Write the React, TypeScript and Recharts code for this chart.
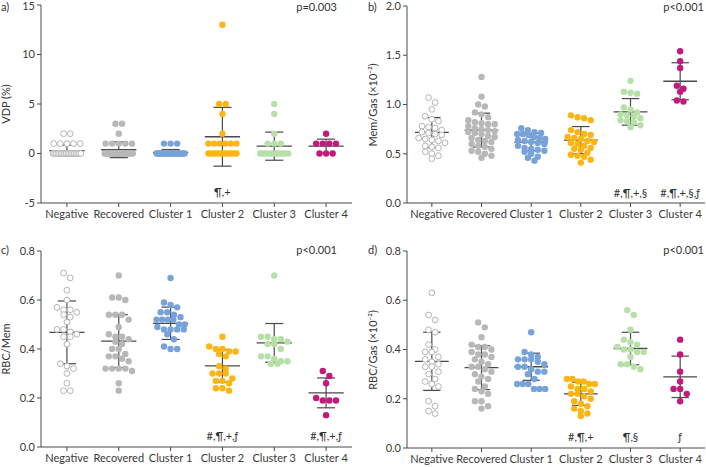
import React from 'react';
import { ScatterChart, Scatter, XAxis, YAxis, ReferenceLine, ReferenceDot } from 'recharts';

const categories = ['Negative', 'Recovered', 'Cluster 1', 'Cluster 2', 'Cluster 3', 'Cluster 4'];

// a) VDP (%)
const vdpNegative = [2, 2, 1, 1, 1, 1, 1, 0, 0, 0, 0, 0, 0, 0, 0, 0, 0, 0, 0, 0, 0, 0, 0, 0, 0];
const vdpRecovered = [3, 3, 2, 1, 1, 1, 1, 1, 0, 0, 0, 0, 0, 0, 0, 0, 0, 0, 0, 0, 0, 0, 0, 0, 0, 0, 0, 0, 0, 0];
const vdpCluster1 = [1, 1, 1, 0, 0, 0, 0, 0, 0, 0, 0, 0, 0, 0, 0, 0, 0, 0, 0, 0, 0, 0, 0, 0];
const vdpCluster2 = [13, 5, 5, 4, 2, 1, 1, 1, 1, 1, 1, 0, 0, 0, 0, 0, 0, 0, 0, 0, 0];
const vdpCluster3 = [5, 4, 2, 1, 1, 1, 0, 0, 0, 0, 0, 0, 0, 0, 0, 0];
const vdpCluster4 = [2, 1, 1, 1, 1, 0, 0, 0];
const vdpMean = [0.29, 0.38, 0.1, 1.69, 0.74, 0.75];
const vdpSd = [0.56, 0.8, 0.3, 2.97, 1.42, 0.7];
const vdpNotes = ['', '', '', '¶,+', '', ''];

// b) Mem/Gas
const memNegative = [1.07, 1.02, 0.95, 0.88, 0.85, 0.83, 0.78, 0.77, 0.76, 0.74, 0.72, 0.71, 0.7, 0.69, 0.66, 0.65, 0.64, 0.63, 0.61, 0.58, 0.57, 0.56, 0.52, 0.5, 0.48, 0.45];
const memRecovered = [1.28, 1.08, 1.0, 0.98, 0.92, 0.9, 0.87, 0.84, 0.82, 0.81, 0.8, 0.8, 0.78, 0.76, 0.75, 0.74, 0.73, 0.72, 0.71, 0.7, 0.68, 0.67, 0.66, 0.64, 0.63, 0.62, 0.6, 0.58, 0.57, 0.55, 0.53, 0.52, 0.5, 0.48, 0.46];
const memCluster1 = [0.76, 0.74, 0.72, 0.71, 0.7, 0.7, 0.69, 0.67, 0.66, 0.65, 0.64, 0.63, 0.62, 0.61, 0.6, 0.58, 0.56, 0.55, 0.54, 0.53, 0.52, 0.5, 0.47, 0.46, 0.43];
const memCluster2 = [0.89, 0.87, 0.86, 0.84, 0.74, 0.72, 0.7, 0.69, 0.67, 0.66, 0.65, 0.63, 0.62, 0.61, 0.6, 0.58, 0.56, 0.55, 0.54, 0.51, 0.49, 0.48, 0.47, 0.44, 0.41];
const memCluster3 = [1.24, 1.13, 1.12, 1.11, 0.97, 0.95, 0.92, 0.9, 0.89, 0.88, 0.86, 0.84, 0.83, 0.82, 0.79, 0.77];
const memCluster4 = [1.54, 1.44, 1.37, 1.19, 1.16, 1.13, 1.04, 1.03];
const memMean = [0.716, 0.74, 0.618, 0.638, 0.925, 1.236];
const memSd = [0.152, 0.172, 0.088, 0.138, 0.135, 0.188];
const memNotes = ['', '', '', '', '#,¶,+,§', '#,¶,+,§,ƒ'];

// c) RBC/Mem
const rbcMemNegative = [0.71, 0.69, 0.64, 0.6, 0.57, 0.56, 0.56, 0.55, 0.54, 0.53, 0.51, 0.48, 0.48, 0.47, 0.46, 0.45, 0.45, 0.42, 0.34, 0.33, 0.32, 0.3, 0.26, 0.23, 0.23];
const rbcMemRecovered = [0.7, 0.61, 0.61, 0.6, 0.54, 0.54, 0.54, 0.52, 0.49, 0.46, 0.45, 0.45, 0.44, 0.43, 0.42, 0.4, 0.4, 0.38, 0.37, 0.37, 0.36, 0.35, 0.32, 0.32, 0.32, 0.32, 0.31, 0.26, 0.23];
const rbcMemCluster1 = [0.69, 0.59, 0.58, 0.57, 0.55, 0.55, 0.54, 0.53, 0.52, 0.52, 0.52, 0.52, 0.5, 0.5, 0.49, 0.48, 0.48, 0.48, 0.48, 0.46, 0.44, 0.41, 0.4, 0.4];
const rbcMemCluster2 = [0.45, 0.41, 0.4, 0.4, 0.39, 0.39, 0.38, 0.37, 0.33, 0.32, 0.3, 0.3, 0.3, 0.28, 0.27, 0.27, 0.26, 0.24, 0.24, 0.23];
const rbcMemCluster3 = [0.7, 0.45, 0.45, 0.44, 0.44, 0.43, 0.42, 0.42, 0.4, 0.37, 0.37, 0.36, 0.35, 0.35, 0.34, 0.34];
const rbcMemCluster4 = [0.31, 0.29, 0.26, 0.2, 0.19, 0.19, 0.19, 0.13];
const rbcMemMean = [0.468, 0.432, 0.505, 0.331, 0.425, 0.221];
const rbcMemSd = [0.128, 0.108, 0.066, 0.066, 0.079, 0.061];
const rbcMemNotes = ['', '', '', '#,¶,+,ƒ', '', '#,¶,+,ƒ'];

// d) RBC/Gas
const rbcGasNegative = [0.63, 0.54, 0.52, 0.48, 0.47, 0.42, 0.4, 0.39, 0.39, 0.37, 0.36, 0.35, 0.34, 0.33, 0.33, 0.31, 0.3, 0.28, 0.27, 0.26, 0.25, 0.19, 0.17, 0.15, 0.14];
const rbcGasRecovered = [0.51, 0.49, 0.45, 0.42, 0.41, 0.41, 0.4, 0.39, 0.38, 0.38, 0.37, 0.36, 0.35, 0.34, 0.33, 0.33, 0.32, 0.31, 0.3, 0.29, 0.28, 0.27, 0.25, 0.24, 0.23, 0.22, 0.19, 0.19, 0.17, 0.16];
const rbcGasCluster1 = [0.47, 0.39, 0.38, 0.37, 0.36, 0.36, 0.36, 0.35, 0.34, 0.33, 0.33, 0.32, 0.31, 0.31, 0.3, 0.28, 0.26, 0.26, 0.26, 0.24, 0.24, 0.24];
const rbcGasCluster2 = [0.28, 0.28, 0.27, 0.27, 0.26, 0.26, 0.25, 0.24, 0.24, 0.23, 0.22, 0.22, 0.21, 0.2, 0.19, 0.18, 0.17, 0.16, 0.15, 0.14, 0.13];
const rbcGasCluster3 = [0.56, 0.54, 0.48, 0.44, 0.43, 0.42, 0.41, 0.4, 0.4, 0.39, 0.39, 0.37, 0.34, 0.34, 0.33, 0.32];
const rbcGasCluster4 = [0.44, 0.38, 0.31, 0.27, 0.24, 0.24, 0.22, 0.19];
const rbcGasMean = [0.352, 0.326, 0.33, 0.22, 0.404, 0.289];
const rbcGasSd = [0.118, 0.089, 0.055, 0.047, 0.066, 0.084];
const rbcGasNotes = ['', '', '', '#,¶,+', '¶,§', 'ƒ'];

const dotFill = ['#ffffff', '#b8b8b8', '#78a3da', '#fcb514', '#b7e0a9', '#c4187c'];
const dotStroke = ['#b4b4b4', '#b8b8b8', '#78a3da', '#fcb514', '#b7e0a9', '#c4187c'];
const ink = '#4a4a4a';
const font = 'Lato, "Source Sans Pro", "Noto Sans", sans-serif';

// spread points of equal height side by side, like a column scatter plot
function swarm(values: number[], center: number, pxPerUnit: number, catPx: number) {
  const D = 6;
  const maxHalf = 14;
  const sorted = [...values].sort((a, b) => b - a);
  const rows: number[][] = [];
  sorted.forEach((v) => {
    const row = rows[rows.length - 1];
    if (row && (row[0] - v) * pxPerUnit < D * 0.85) row.push(v);
    else rows.push([v]);
  });
  const pts: { x: number; y: number }[] = [];
  rows.forEach((row) => {
    const k = row.length;
    const s = k > 1 ? Math.min(D + 0.6, (2 * maxHalf) / (k - 1)) : 0;
    row.forEach((v, j) => pts.push({ x: center + ((j - (k - 1) / 2) * s) / catPx, y: v }));
  });
  return pts;
}

type PanelProps = {
  left: number;
  top: number;
  height: number;
  marginTop: number;
  yAxisWidth: number;
  xAxisHeight: number;
  groups: number[][];
  means: number[];
  sds: number[];
  notes: string[];
  noteY: number;
  domain: [number, number];
  ticks: number[];
  digits: number;
  letter: string;
  letterX: number;
  headY: number;
  yLabel: string;
  pText: string;
  pRight: number;
  labelX: number;
};

const textStyle: React.CSSProperties = {
  position: 'absolute',
  fontSize: 11,
  lineHeight: '12px',
  color: '#333',
  whiteSpace: 'nowrap',
};

const Panel: React.FC<PanelProps> = (p) => {
  const width = 353;
  const plotW = width - p.yAxisWidth - 1;
  const plotH = p.height - p.marginTop - p.xAxisHeight;
  const pxPerUnit = plotH / (p.domain[1] - p.domain[0]);
  const catPx = plotW / 6;
  const plotMid = p.marginTop + plotH / 2;

  return (
    <div style={{ position: 'absolute', left: p.left, top: p.top, width, height: p.height }}>
      <ScatterChart
        width={width}
        height={p.height}
        margin={{ top: p.marginTop, right: 1, bottom: 0, left: 0 }}
      >
        <XAxis
          type="number"
          dataKey="x"
          domain={[-0.5, 5.5]}
          ticks={[0, 1, 2, 3, 4, 5]}
          interval={0}
          tickFormatter={(i: number) => categories[i]}
          height={p.xAxisHeight}
          tickSize={4}
          tickMargin={3}
          axisLine={{ stroke: ink }}
          tickLine={{ stroke: ink }}
          tick={{ fontSize: 11, fill: '#3a3a3a' }}
        />
        <YAxis
          type="number"
          dataKey="y"
          domain={p.domain}
          ticks={p.ticks}
          width={p.yAxisWidth}
          tickFormatter={(v: number) => v.toFixed(p.digits)}
          tickSize={4}
          tickMargin={2}
          axisLine={{ stroke: ink }}
          tickLine={{ stroke: ink }}
          tick={{ fontSize: 11, fill: '#3a3a3a' }}
        />
        {p.groups.map((vals, i) => (
          <Scatter
            key={categories[i]}
            data={swarm(vals, i, pxPerUnit, catPx)}
            isAnimationActive={false}
            shape={(s: any) => (
              <circle
                cx={s.cx}
                cy={s.cy}
                r={i === 0 ? 2.9 : 3.2}
                fill={dotFill[i]}
                stroke={dotStroke[i]}
                strokeWidth={i === 0 ? 1 : 0}
              />
            )}
          />
        ))}
        {p.means.map((m, i) => (
          <ReferenceLine
            key={'m' + i}
            segment={[{ x: i - 0.34, y: m }, { x: i + 0.34, y: m }]}
            stroke={ink}
            strokeWidth={1.3}
            ifOverflow="visible"
          />
        ))}
        {p.means.map((m, i) => (
          <ReferenceLine
            key={'v' + i}
            segment={[{ x: i, y: m - p.sds[i] }, { x: i, y: m + p.sds[i] }]}
            stroke={ink}
            strokeWidth={1.2}
            ifOverflow="visible"
          />
        ))}
        {p.means.map((m, i) => (
          <ReferenceLine
            key={'t' + i}
            segment={[{ x: i - 0.175, y: m + p.sds[i] }, { x: i + 0.175, y: m + p.sds[i] }]}
            stroke={ink}
            strokeWidth={1.2}
            ifOverflow="visible"
          />
        ))}
        {p.means.map((m, i) => (
          <ReferenceLine
            key={'b' + i}
            segment={[{ x: i - 0.175, y: m - p.sds[i] }, { x: i + 0.175, y: m - p.sds[i] }]}
            stroke={ink}
            strokeWidth={1.2}
            ifOverflow="visible"
          />
        ))}
        {p.notes.map((n, i) =>
          n ? (
            <ReferenceDot
              key={'n' + i}
              x={i}
              y={p.noteY}
              r={0}
              fill="none"
              stroke="none"
              label={{ value: n, position: 'center', fill: '#333', fontSize: 11 }}
            />
          ) : null
        )}
      </ScatterChart>
      <div style={{ ...textStyle, left: p.letterX, top: p.headY - 6 }}>{p.letter}</div>
      <div style={{ ...textStyle, right: p.pRight, top: p.headY - 6 }}>{p.pText}</div>
      <div
        style={{
          ...textStyle,
          left: p.labelX,
          top: plotMid,
          transform: 'translate(-50%, -50%) rotate(-90deg)',
        }}
      >
        {p.yLabel}
      </div>
    </div>
  );
};

const App: React.FC = () => {
  return (
    <div
      style={{
        position: 'absolute',
        left: 0,
        top: 0,
        width: 706,
        height: 467,
        background: '#fff',
        fontFamily: font,
        overflow: 'hidden',
      }}
    >
      <Panel
        left={0}
        top={0}
        height={234}
        marginTop={5}
        yAxisWidth={41}
        xAxisHeight={31}
        groups={[vdpNegative, vdpRecovered, vdpCluster1, vdpCluster2, vdpCluster3, vdpCluster4]}
        means={vdpMean}
        sds={vdpSd}
        notes={vdpNotes}
        noteY={-3.85}
        domain={[-5, 15]}
        ticks={[-5, 0, 5, 10, 15]}
        digits={0}
        letter="a)"
        letterX={1}
        headY={7}
        yLabel="VDP (%)"
        pText="p=0.003"
        pRight={16}
        labelX={6}
      />
      <Panel
        left={353}
        top={0}
        height={234}
        marginTop={6}
        yAxisWidth={54}
        xAxisHeight={31}
        groups={[memNegative, memRecovered, memCluster1, memCluster2, memCluster3, memCluster4]}
        means={memMean}
        sds={memSd}
        notes={memNotes}
        noteY={0.1}
        domain={[0, 2]}
        ticks={[0, 0.5, 1, 1.5, 2]}
        digits={1}
        letter="b)"
        letterX={15}
        headY={7}
        yLabel="Mem/Gas (×10⁻²)"
        pText="p<0.001"
        pRight={2}
        labelX={20}
      />
      <Panel
        left={0}
        top={234}
        height={233}
        marginTop={17}
        yAxisWidth={41}
        xAxisHeight={20}
        groups={[rbcMemNegative, rbcMemRecovered, rbcMemCluster1, rbcMemCluster2, rbcMemCluster3, rbcMemCluster4]}
        means={rbcMemMean}
        sds={rbcMemSd}
        notes={rbcMemNotes}
        noteY={0.045}
        domain={[0, 0.8]}
        ticks={[0, 0.2, 0.4, 0.6, 0.8]}
        digits={1}
        letter="c)"
        letterX={1}
        headY={16}
        yLabel="RBC/Mem"
        pText="p<0.001"
        pRight={16}
        labelX={6}
      />
      <Panel
        left={353}
        top={234}
        height={233}
        marginTop={17}
        yAxisWidth={54}
        xAxisHeight={19}
        groups={[rbcGasNegative, rbcGasRecovered, rbcGasCluster1, rbcGasCluster2, rbcGasCluster3, rbcGasCluster4]}
        means={rbcGasMean}
        sds={rbcGasSd}
        notes={rbcGasNotes}
        noteY={0.043}
        domain={[0, 0.8]}
        ticks={[0, 0.2, 0.4, 0.6, 0.8]}
        digits={1}
        letter="d)"
        letterX={15}
        headY={16}
        yLabel="RBC/Gas (×10⁻²)"
        pText="p<0.001"
        pRight={2}
        labelX={20}
      />
    </div>
  );
};

export default App;
